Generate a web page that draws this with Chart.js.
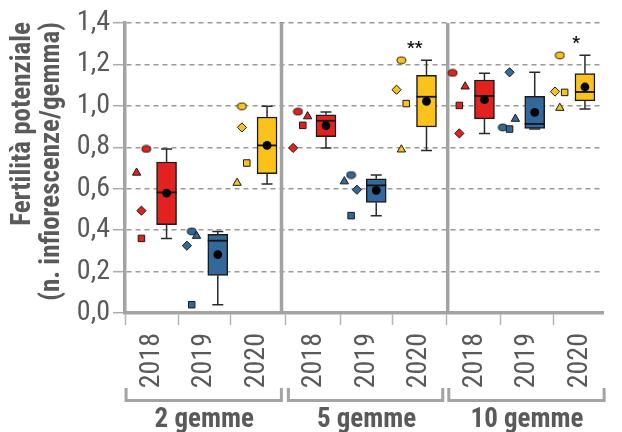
<!DOCTYPE html>
<html><head><meta charset="utf-8">
<script src="https://cdn.jsdelivr.net/npm/chart.js@4.4.1/dist/chart.umd.min.js"></script>
<style>html,body{margin:0;padding:0;background:#fff}#wrap{width:622px;height:432px;position:relative}</style>
</head><body><div id="wrap"><canvas id="c" width="622" height="432"></canvas></div>
<script>
// ---- data ----
const groupLabels = ['2 gemme', '5 gemme', '10 gemme'];
const yearLabels = ['2018', '2019', '2020'];
const yTickLabels = ['0,0', '0,2', '0,4', '0,6', '0,8', '1,0', '1,2', '1,4'];
const yTitle = ['Fertilità potenziale', '(n. infiorescenze/gemma)'];
// 9 slots: 2 gemme (2018,2019,2020), 5 gemme (...), 10 gemme (...)
const repCircle   = [0.792, 0.394, 0.998, 0.972, 0.666, 1.220, 1.159, 0.896, 1.244];
const repTriangle = [0.677, 0.372, 0.628, 0.949, 0.635, 0.789, 1.093, 0.937, 0.990];
const repDiamond  = [0.494, 0.325, 0.896, 0.797, 0.595, 1.078, 0.867, 1.162, 1.069];
const repSquare   = [0.360, 0.040, 0.724, 0.906, 0.470, 1.011, 1.002, 0.888, 1.065];
const whiskerLow  = [0.360, 0.040, 0.623, 0.797, 0.470, 0.784, 0.867, 0.888, 0.985];
const q1          = [0.426, 0.182, 0.673, 0.851, 0.534, 0.898, 0.937, 0.891, 1.024];
const median      = [0.582, 0.349, 0.809, 0.928, 0.616, 1.044, 1.048, 0.913, 1.067];
const q3          = [0.729, 0.380, 0.946, 0.957, 0.648, 1.147, 1.125, 1.046, 1.156];
const whiskerHigh = [0.792, 0.394, 0.998, 0.970, 0.666, 1.220, 1.157, 1.162, 1.244];
const means       = [0.579, 0.282, 0.809, 0.904, 0.592, 1.022, 1.030, 0.969, 1.091];
const signif      = ['', '', '', '', '', '**', '', '', '*'];

// ---- layout (positions / styles) ----
const SLOT_PX = 54.5;
const slotPos = [0.514, 1.505, 2.514, 3.596, 4.587, 5.578, 6.642, 7.633, 8.642];
const sepPos = [2.972, 6.128];
const xMax = 9.083;
const boxShiftPx = [15, 14, 10, 12, 10, 8, 10, 8, 5];
const jitCircle   = [-6, -13, -16, -17, -16, -18, -23, -25, -21];
const jitTriangle = [-16, -8, -21, -7, -23, -18, -10, -12, -21];
const jitDiamond  = [-11, -18, -16, -22, -10, -23, -16, -18, -26];
const jitSquare   = [-11, -13, -11, -12, -16, -13, -16, -18, -16];
const yearColors = ['#E3211E', '#33689B', '#FCC21C'];
const FONT = "'Liberation Sans Narrow', 'Roboto Condensed', 'DejaVu Sans Condensed', sans-serif";
const TXT = '#5a5a5a';
const AXIS = '#a3a3a3';

function ellipseMarker(color) {
  const c = document.createElement('canvas');
  c.width = 11; c.height = 9;
  const x = c.getContext('2d');
  x.beginPath(); x.ellipse(5.5, 4.5, 4.4, 3.4, 0, 0, Math.PI * 2);
  x.fillStyle = color; x.fill();
  x.lineWidth = 1; x.strokeStyle = '#1a1a1a'; x.stroke();
  return c;
}

const reps = [
  {vals: repCircle, jit: jitCircle, style: 'ellipse', r: 4},
  {vals: repTriangle, jit: jitTriangle, style: 'triangle', r: 4.8},
  {vals: repDiamond, jit: jitDiamond, style: 'rectRot', r: 4.6},
  {vals: repSquare, jit: jitSquare, style: 'rect', r: 4.6}
];

const pointDatasets = yearLabels.map((yl, yi) => {
  const data = [], styles = [], radii = [];
  const ell = ellipseMarker(yearColors[yi]);
  for (let g = 0; g < 3; g++) {
    const i = g * 3 + yi;
    reps.forEach(r => {
      data.push({x: slotPos[i] + r.jit[i] / SLOT_PX, y: r.vals[i]});
      styles.push(r.style === 'ellipse' ? ell : r.style);
      radii.push(r.r);
    });
  }
  return {
    type: 'scatter', label: yl, data, order: 1,
    pointStyle: styles, pointRadius: radii, pointHoverRadius: radii,
    backgroundColor: yearColors[yi], borderColor: '#1a1a1a', borderWidth: 1
  };
});

const boxX = i => slotPos[i] + boxShiftPx[i] / SLOT_PX;

const boxDataset = {
  type: 'bar', label: 'box', order: 3,
  data: q1.map((v, i) => ({x: boxX(i), y: [v, q3[i]]})),
  backgroundColor: q1.map((v, i) => yearColors[i % 3]),
  borderColor: '#1a1a1a', borderWidth: 1.5, borderSkipped: false,
  barThickness: 20, grouped: false
};

const meanDataset = {
  type: 'scatter', label: 'mean', order: 0,
  data: means.map((m, i) => ({x: boxX(i), y: m})),
  pointRadius: 4.4, pointHoverRadius: 4.4, backgroundColor: '#000', borderColor: '#000', borderWidth: 0
};

const boxPlugin = {
  id: 'boxparts',
  afterDatasetDraw(chart, args) {
    if (args.meta.type !== 'bar') return;
    const ctx = chart.ctx, xs = chart.scales.x, ys = chart.scales.y;
    ctx.save();
    for (let i = 0; i < q1.length; i++) {
      const cx = xs.getPixelForValue(boxX(i));
      const yq1 = ys.getPixelForValue(q1[i]), yq3 = ys.getPixelForValue(q3[i]);
      const ylo = ys.getPixelForValue(whiskerLow[i]), yhi = ys.getPixelForValue(whiskerHigh[i]);
      const ym = ys.getPixelForValue(median[i]);
      ctx.strokeStyle = '#2a2a2a'; ctx.lineWidth = 1.5;
      ctx.beginPath();
      ctx.moveTo(cx, yq3); ctx.lineTo(cx, yhi);
      ctx.moveTo(cx - 5.5, yhi); ctx.lineTo(cx + 5.5, yhi);
      ctx.moveTo(cx, yq1); ctx.lineTo(cx, ylo);
      ctx.moveTo(cx - 5.5, ylo); ctx.lineTo(cx + 5.5, ylo);
      ctx.stroke();
      ctx.strokeStyle = '#111'; ctx.lineWidth = 1.8;
      ctx.beginPath(); ctx.moveTo(cx - 10, ym); ctx.lineTo(cx + 10, ym); ctx.stroke();
    }
    ctx.restore();
  }
};

const decoPlugin = {
  id: 'deco',
  beforeDatasetsDraw(chart) {
    const ctx = chart.ctx, xs = chart.scales.x, a = chart.chartArea;
    ctx.save();
    ctx.strokeStyle = AXIS; ctx.lineWidth = 3.5;
    sepPos.forEach(s => {
      const px = xs.getPixelForValue(s);
      ctx.beginPath(); ctx.moveTo(px, a.top); ctx.lineTo(px, a.bottom); ctx.stroke();
    });
    ctx.restore();
  },
  afterDraw(chart) {
    const ctx = chart.ctx, xs = chart.scales.x, ys = chart.scales.y, a = chart.chartArea;
    ctx.save();
    // significance marks
    ctx.fillStyle = '#111'; ctx.font = "bold 17px " + FONT; ctx.textAlign = 'center'; ctx.textBaseline = 'middle';
    signif.forEach((s, i) => {
      if (!s) return;
      const px = xs.getPixelForValue(slotPos[i]) - 4;
      const py = ys.getPixelForValue(whiskerHigh[i]) - 12;
      ctx.fillText(s, px, py);
    });
    // group brackets
    ctx.strokeStyle = AXIS; ctx.lineWidth = 3;
    groupLabels.forEach((gl, g) => {
      const l = xs.getPixelForValue(slotPos[g * 3]) - 26;
      const r = xs.getPixelForValue(slotPos[g * 3 + 2]) + 24;
      ctx.beginPath();
      ctx.moveTo(l, 388); ctx.lineTo(l, 400.5); ctx.lineTo(r, 400.5); ctx.lineTo(r, 388);
      ctx.stroke();
      ctx.fillStyle = TXT; ctx.font = "bold 27px " + FONT; ctx.textAlign = 'center'; ctx.textBaseline = 'alphabetic';
      ctx.fillText(gl, xs.getPixelForValue(slotPos[g * 3 + 1]), 427);
    });
    // y title (rotated, aligned to top)
    ctx.fillStyle = TXT; ctx.font = "bold 27px " + FONT;
    ctx.textAlign = 'right'; ctx.textBaseline = 'middle';
    const xs2 = [23, 52];
    yTitle.forEach((t, k) => {
      ctx.save();
      ctx.translate(xs2[k], a.top - 1);
      ctx.rotate(-Math.PI / 2);
      ctx.fillText(t, 0, 0);
      ctx.restore();
    });
    ctx.restore();
  }
};

Chart.defaults.font.family = FONT;

new Chart(document.getElementById('c'), {
  type: 'bar',
  data: {datasets: [boxDataset, ...pointDatasets, meanDataset]},
  options: {
    responsive: false, animation: false,
    layout: {padding: {top: 23, right: 2, left: 0, bottom: 0}},
    plugins: {legend: {display: false}, tooltip: {enabled: false}},
    scales: {
      x: {
        type: 'linear', min: 0, max: xMax, offset: false,
        afterBuildTicks: s => { s.ticks = slotPos.map(v => ({value: v})); },
        afterFit: s => { s.height = 119; },
        ticks: {
          callback: (v, i) => yearLabels[i % 3],
          minRotation: 90, maxRotation: 90, autoSkip: false,
          color: TXT, font: {size: 28}, padding: 8
        },
        grid: {display: true, drawOnChartArea: false, drawTicks: true, tickLength: 12, tickColor: '#b5b5b5', tickWidth: 1.5},
        border: {display: true, color: AXIS, width: 3.5}
      },
      y: {
        min: 0, max: 1.4,
        afterBuildTicks: s => { s.ticks = yTickLabels.map((t, i) => ({value: i * 0.2})); },
        afterFit: s => { s.width = 125; },
        ticks: {
          callback: (v, i) => yTickLabels[i],
          color: TXT, font: {size: 28}, padding: 3
        },
        grid: {color: '#9a9a9a', lineWidth: 1.4, tickLength: 12, tickColor: '#aaaaaa', tickWidth: 1.5},
        border: {display: true, color: AXIS, width: 3.5, dash: [5, 4]}
      }
    }
  },
  plugins: [boxPlugin, decoPlugin]
});
</script>
</body></html>
